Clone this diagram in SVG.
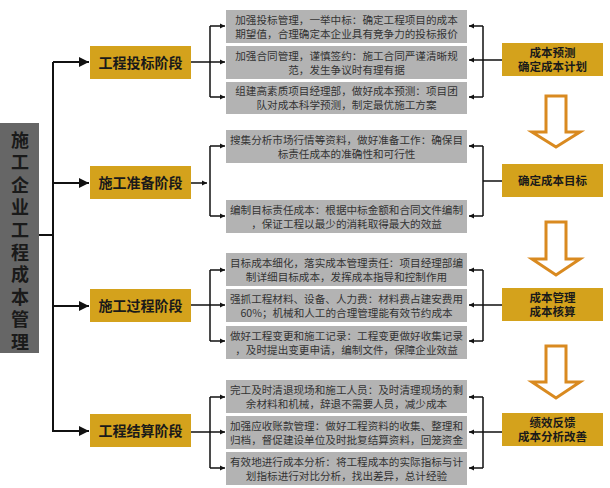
<svg xmlns="http://www.w3.org/2000/svg" width="610" height="488" viewBox="0 0 610 488">
<defs>
<marker id="a" viewBox="0 0 10 10" refX="10" refY="5" markerWidth="5" markerHeight="5" orient="auto"><path d="M0,0L10,5L0,10z" fill="#111"/></marker>
<marker id="s" viewBox="0 0 10 10" refX="10" refY="5" markerWidth="3.5" markerHeight="3.5" orient="auto"><path d="M0,0L10,5L0,10z" fill="#111"/></marker>
<style>
text{font-family:"Noto Sans CJK SC",sans-serif}
.g{fill:#b3b3b3}
.gt{font-size:10.6px;fill:#333;text-anchor:middle}
.p{fill:#d4a21c}
.pt{font-size:14px;font-weight:bold;fill:#1a1a1a;text-anchor:middle}
.rt{font-size:11.5px;font-weight:bold;fill:#1a1a1a;text-anchor:middle}
.l{stroke:#111;stroke-width:2;fill:none}
.t{stroke:#111;stroke-width:1.5;fill:none}
.o{fill:#fff;stroke:#d98a20;stroke-width:3;stroke-linejoin:miter}
</style>
</defs>
<rect width="610" height="488" fill="#fff"/>
<g id="root"><rect x="0" y="123" width="39" height="230" fill="#666"/>
<text x="20" y="147" font-size="18" font-weight="bold" fill="#1a1a1a" text-anchor="middle"><tspan x="20">施</tspan><tspan x="20" dy="22.4">工</tspan><tspan x="20" dy="22.4">企</tspan><tspan x="20" dy="22.4">业</tspan><tspan x="20" dy="22.4">工</tspan><tspan x="20" dy="22.4">程</tspan><tspan x="20" dy="22.4">成</tspan><tspan x="20" dy="22.4">本</tspan><tspan x="20" dy="22.4">管</tspan><tspan x="20" dy="22.4">理</tspan></text></g>
<g id="connectors">
<path class="l" d="M39,235H53M53,62V432"/>
<path class="l" d="M53,62H89" marker-end="url(#a)"/><path class="l" d="M53,183H89" marker-end="url(#a)"/><path class="l" d="M53,306H89" marker-end="url(#a)"/><path class="l" d="M53,431H89" marker-end="url(#a)"/>
<path class="t" d="M191,62H210M210,26V97M191,305H210M210,270V341M191,432H210M210,397V468"/>
<path class="t" d="M191,183H207" marker-end="url(#s)"/><path class="t" d="M210,146V216"/>
<g>
<path class="t" d="M210,26H225" marker-end="url(#s)"/><path class="t" d="M210,62H225" marker-end="url(#s)"/><path class="t" d="M210,97H225" marker-end="url(#s)"/>
<path class="t" d="M210,146H225" marker-end="url(#s)"/><path class="t" d="M210,216H225" marker-end="url(#s)"/>
<path class="t" d="M210,270H225" marker-end="url(#s)"/><path class="t" d="M210,305H225" marker-end="url(#s)"/><path class="t" d="M210,341H225" marker-end="url(#s)"/>
<path class="t" d="M210,397H225" marker-end="url(#s)"/><path class="t" d="M210,432H225" marker-end="url(#s)"/><path class="t" d="M210,468H225" marker-end="url(#s)"/>
</g>
<path class="t" d="M483,26V97M502,60H483M483,146V216M502,181H483M483,270V341M502,305H483M483,397V468M502,432H483"/>
<g>
<path class="t" d="M483,26H469" marker-end="url(#s)"/><path class="t" d="M483,60H469" marker-end="url(#s)"/><path class="t" d="M483,97H469" marker-end="url(#s)"/>
<path class="t" d="M483,146H469" marker-end="url(#s)"/><path class="t" d="M483,216H469" marker-end="url(#s)"/>
<path class="t" d="M483,270H469" marker-end="url(#s)"/><path class="t" d="M483,305H469" marker-end="url(#s)"/><path class="t" d="M483,341H469" marker-end="url(#s)"/>
<path class="t" d="M483,397H469" marker-end="url(#s)"/><path class="t" d="M483,432H469" marker-end="url(#s)"/><path class="t" d="M483,468H469" marker-end="url(#s)"/>
</g>
<path class="o" d="M546,96H566V132H580L556,147L532,132H546Z"/>
<path class="o" d="M546,222H566V259H580L556,275L532,259H546Z"/>
<path class="o" d="M546,346H566V382H580L556,398L532,382H546Z"/>
</g>
<g id="p1"><rect class="p" x="90" y="46" width="101" height="33"/><text class="pt" x="140.5" y="67.5">工程投标阶段</text></g>
<g id="p2"><rect class="p" x="90" y="166" width="101" height="33"/><text class="pt" x="140.5" y="187.5">施工准备阶段</text></g>
<g id="p3"><rect class="p" x="90" y="289" width="101" height="33"/><text class="pt" x="140.5" y="310.5">施工过程阶段</text></g>
<g id="p4"><rect class="p" x="90" y="414" width="101" height="33"/><text class="pt" x="140.5" y="435.5">工程结算阶段</text></g>
<g id="b1"><rect class="g" x="226" y="10" width="241" height="33"/><text class="gt" x="346.5" y="23.5">加强投标管理，一举中标：确定工程项目的成本<tspan x="346.5" dy="14">期望值，合理确定本企业具有竞争力的投标报价</tspan></text></g>
<g id="b2"><rect class="g" x="226" y="46" width="241" height="33"/><text class="gt" x="346.5" y="59.5">加强合同管理，谨慎签约：施工合同严谨清晰规<tspan x="346.5" dy="14">范，发生争议时有理有据</tspan></text></g>
<g id="b3"><rect class="g" x="226" y="82" width="241" height="32"/><text class="gt" x="346.5" y="95">组建高素质项目经理部，做好成本预测：项目团<tspan x="346.5" dy="14">队对成本科学预测，制定最优施工方案</tspan></text></g>
<g id="b4"><rect class="g" x="226" y="130" width="241" height="33"/><text class="gt" x="346.5" y="143.5">搜集分析市场行情等资料，做好准备工作：确保目<tspan x="346.5" dy="14">标责任成本的准确性和可行性</tspan></text></g>
<g id="b5"><rect class="g" x="226" y="200" width="241" height="33"/><text class="gt" x="346.5" y="213.5">编制目标责任成本：根据中标金额和合同文件编制<tspan x="346.5" dy="14">，保证工程以最少的消耗取得最大的效益</tspan></text></g>
<g id="b6"><rect class="g" x="226" y="253" width="241" height="33"/><text class="gt" x="346.5" y="266.5">目标成本细化，落实成本管理责任：项目经理部编<tspan x="346.5" dy="14">制详细目标成本，发挥成本指导和控制作用</tspan></text></g>
<g id="b7"><rect class="g" x="226" y="289" width="241" height="33"/><text class="gt" x="346.5" y="302.5">强抓工程材料、设备、人力费：材料费占建安费用<tspan x="346.5" dy="14">60%；机械和人工的合理管理能有效节约成本</tspan></text></g>
<g id="b8"><rect class="g" x="226" y="326" width="241" height="33"/><text class="gt" x="346.5" y="339.5">做好工程变更和施工记录：工程变更做好收集记录<tspan x="346.5" dy="14">，及时提出变更申请，编制文件，保障企业效益</tspan></text></g>
<g id="b9"><rect class="g" x="226" y="380" width="241" height="33"/><text class="gt" x="346.5" y="393.5">完工及时清退现场和施工人员：及时清理现场的剩<tspan x="346.5" dy="14">余材料和机械，辞退不需要人员，减少成本</tspan></text></g>
<g id="b10"><rect class="g" x="226" y="416" width="241" height="33"/><text class="gt" x="346.5" y="429.5">加强应收账款管理：做好工程资料的收集、整理和<tspan x="346.5" dy="14">归档，督促建设单位及时批复结算资料，回笼资金</tspan></text></g>
<g id="b11"><rect class="g" x="226" y="452" width="241" height="33"/><text class="gt" x="346.5" y="465.5">有效地进行成本分析：将工程成本的实际指标与计<tspan x="346.5" dy="14">划指标进行对比分析，找出差异，总计经验</tspan></text></g>
<g id="r1"><rect class="p" x="502" y="43" width="101" height="33"/><text class="rt" x="552.5" y="57">成本预测<tspan x="552.5" dy="14">确定成本计划</tspan></text></g>
<g id="r2"><rect class="p" x="502" y="164" width="101" height="33"/><text class="rt" x="552.5" y="185">确定成本目标</text></g>
<g id="r3"><rect class="p" x="502" y="288" width="101" height="33"/><text class="rt" x="552.5" y="302">成本管理<tspan x="552.5" dy="14">成本核算</tspan></text></g>
<g id="r4"><rect class="p" x="502" y="413" width="101" height="33"/><text class="rt" x="552.5" y="427">绩效反馈<tspan x="552.5" dy="14">成本分析改善</tspan></text></g>
</svg>
